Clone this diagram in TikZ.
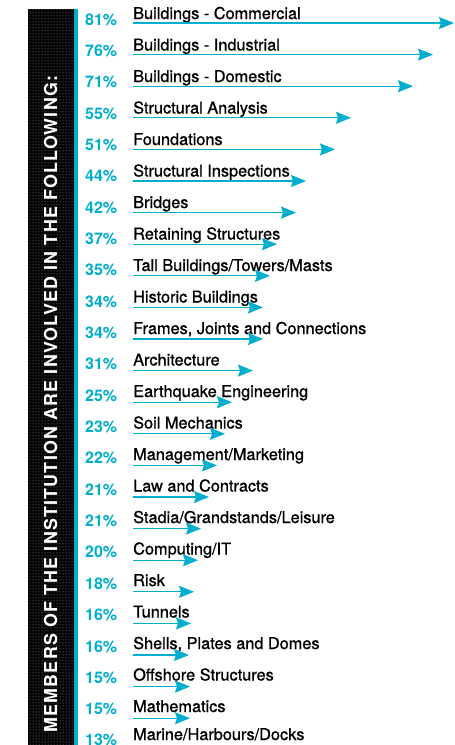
\documentclass[tikz,border=0pt]{standalone}
\usepackage{fontspec}
\setmainfont{TeX Gyre Heros}
\newfontfamily\lblfont[FakeBold=1.0]{TeX Gyre Heros}
\newfontfamily\bandfont[LetterSpace=7]{TeX Gyre Heros Bold}
\usetikzlibrary{arrows.meta,patterns}
\definecolor{ice}{RGB}{0,174,206}
\begin{document}
\begin{tikzpicture}[x=1pt,y=-1pt,
  lbl/.style={anchor=base west, inner sep=0pt, font=\lblfont\fontsize{16.3}{18}\selectfont, text=black},
  pct/.style={anchor=base west, inner sep=0pt, font=\bfseries\fontsize{16}{18}\selectfont, text=ice},
  bar/.style={draw=ice, line width=1.3pt, -{Stealth[length=15pt,width=12pt,inset=2pt]}}]
\useasboundingbox (0,0) rectangle (455,745);
% side band
\fill[black] (28,9) rectangle (74,745);
\fill[pattern=dots, pattern color=gray!70] (28,9) rectangle (74,745);
\fill[ice] (74,9) rectangle (77.5,745);
\node[rotate=90, text=white, inner sep=0pt, font=\bandfont\fontsize{17.5}{18}\selectfont] (band) at (50.5,404)
  {\resizebox{657pt}{!}{MEMBERS OF THE INSTITUTION ARE INVOLVED IN THE FOLLOWING:}};
% rows
\foreach \t/\p/\e [count=\i from 0] in {
  {Buildings - Commercial}/81/454,
  {Buildings - Industrial}/76/433,
  {Buildings - Domestic}/71/413,
  {Structural Analysis}/55/351,
  {Foundations}/51/335,
  {Structural Inspections}/44/306,
  {Bridges}/42/296,
  {Retaining Structures}/37/277,
  {Tall Buildings/Towers/Masts}/35/270,
  {Historic Buildings}/34/263,
  {Frames, Joints and Connections}/34/263,
  {Architecture}/31/253,
  {Earthquake Engineering}/25/232,
  {Soil Mechanics}/23/225,
  {Management/Marketing}/22/217,
  {Law and Contracts}/21/209,
  {Stadia/Grandstands/Leisure}/21/201,
  {Computing/IT}/20/198,
  {Risk}/18/194,
  {Tunnels}/16/191,
  {Shells, Plates and Domes}/16/189,
  {Offshore Structures}/15/190,
  {Mathematics}/15/190}{
  \node[lbl] (l\i) at (133,{19+31.5*\i}) {\t};
  \node[pct] (p\i) at (85,{25+31.35*\i}) {\p\%};
  \coordinate (s\i) at (133,{23+31.6*\i});
  \coordinate (e\i) at (\e,{23+31.6*\i});
}
\node[lbl] (l23) at (133,740) {Marine/Harbours/Docks};
\node[pct] (p23) at (85,745) {13\%};
\foreach \i in {0,...,22}{
  \draw[bar] (s\i) -- (e\i);
}
\end{tikzpicture}
\end{document}
